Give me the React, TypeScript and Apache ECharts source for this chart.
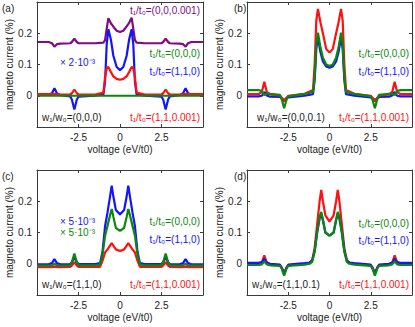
import React, { useEffect, useRef } from "react";
import * as echarts from "echarts";

// ---------- data ----------
const X_AB = [-5, -4.3, -4.1, -3.95, -3.8, -3.6, -3.0, -2.9, -2.75, -2.6, -2.5, -1.5, -1.0, -0.9, -0.8, -0.7, -0.55, -0.4, -0.2, 0,
  0.2, 0.4, 0.55, 0.7, 0.8, 0.9, 1.0, 1.5, 2.5, 2.6, 2.75, 2.9, 3.0, 3.6, 3.8, 3.95, 4.1, 4.3, 5];

const A_PURPLE = [0.172, 0.172, 0.168, 0.157, 0.165, 0.167, 0.168, 0.172, 0.183, 0.172, 0.168, 0.168, 0.170, 0.178, 0.215, 0.248, 0.232, 0.221, 0.208, 0.204,
  0.208, 0.222, 0.233, 0.250, 0.215, 0.178, 0.170, 0.168, 0.168, 0.172, 0.183, 0.172, 0.168, 0.167, 0.165, 0.157, 0.168, 0.172, 0.172];
const A_BLUE = [0.003, 0.003, 0.008, 0.024, 0.008, 0.002, -0.002, -0.012, -0.044, -0.012, -0.003, 0.000, 0.004, 0.045, 0.165, 0.213, 0.180, 0.128, 0.092, 0.082,
  0.092, 0.128, 0.180, 0.213, 0.165, 0.045, 0.004, 0.000, -0.003, -0.012, -0.044, -0.012, -0.002, 0.002, 0.008, 0.024, 0.008, 0.003, 0.003];
const A_RED = [0.005, 0.005, 0.005, 0.006, 0.005, 0.004, 0.004, 0.008, 0.020, 0.008, 0.004, 0.004, 0.010, 0.060, 0.088, 0.092, 0.076, 0.062, 0.054, 0.051,
  0.054, 0.062, 0.076, 0.092, 0.088, 0.060, 0.010, 0.004, 0.004, 0.008, 0.020, 0.008, 0.004, 0.004, 0.005, 0.006, 0.005, 0.005, 0.005];
const A_GREEN = [0, 0, 0, 0, 0, 0, 0, 0, 0, 0, 0, 0, 0, 0, 0, 0, 0, 0, 0, 0,
  0, 0, 0, 0, 0, 0, 0, 0, 0, 0, 0, 0, 0, 0, 0, 0, 0, 0, 0];

const B_GREEN = [0.018, 0.018, 0.015, 0.002, 0.007, 0.006, 0.003, -0.010, -0.040, -0.012, -0.002, 0.006, 0.012, 0.060, 0.165, 0.202, 0.155, 0.122, 0.100, 0.095,
  0.100, 0.122, 0.155, 0.202, 0.165, 0.060, 0.012, 0.006, -0.002, -0.012, -0.040, -0.010, 0.003, 0.006, 0.007, 0.002, 0.015, 0.018, 0.018];
const B_RED = [0.005, 0.005, 0.012, 0.045, 0.012, 0.004, 0.000, -0.006, -0.018, -0.006, 0.000, 0.006, 0.018, 0.100, 0.240, 0.278, 0.235, 0.200, 0.150, 0.138,
  0.150, 0.200, 0.235, 0.278, 0.240, 0.100, 0.018, 0.006, 0.000, -0.006, -0.018, -0.006, 0.000, 0.004, 0.012, 0.045, 0.012, 0.005, 0.005];
const B_BLUE = [-0.002, -0.002, 0.000, 0.012, 0.001, -0.003, -0.004, -0.008, -0.014, -0.008, -0.005, 0.000, 0.005, 0.050, 0.150, 0.187, 0.140, 0.110, 0.094, 0.090,
  0.094, 0.110, 0.140, 0.187, 0.150, 0.050, 0.005, 0.000, -0.005, -0.008, -0.014, -0.008, -0.004, -0.003, 0.001, 0.012, 0.000, -0.002, -0.002];

const X_CD = [-5, -4.3, -4.1, -3.95, -3.8, -3.6, -3.0, -2.9, -2.75, -2.6, -2.5, -1.5, -1.2, -1.05, -0.9, -0.75, -0.6, -0.5, -0.4, -0.25, 0,
  0.25, 0.4, 0.5, 0.6, 0.75, 0.9, 1.05, 1.2, 1.5, 2.5, 2.6, 2.75, 2.9, 3.0, 3.6, 3.8, 3.95, 4.1, 4.3, 5];

const C_BLUE = [-0.002, -0.002, 0.002, 0.015, 0.002, -0.002, -0.001, 0.005, 0.020, 0.005, -0.001, -0.001, 0.002, 0.040, 0.120, 0.165, 0.215, 0.250, 0.215, 0.172, 0.158,
  0.172, 0.215, 0.250, 0.215, 0.165, 0.120, 0.040, 0.002, -0.001, -0.001, 0.005, 0.020, 0.005, -0.001, -0.002, 0.002, 0.015, 0.002, -0.002, -0.002];
const C_GREEN = [-0.006, -0.006, -0.005, 0.000, -0.005, -0.006, -0.005, 0.005, 0.033, 0.005, -0.005, -0.005, -0.003, 0.030, 0.090, 0.122, 0.155, 0.175, 0.150, 0.115, 0.105,
  0.115, 0.150, 0.175, 0.155, 0.122, 0.090, 0.030, -0.003, -0.005, -0.005, 0.005, 0.033, 0.005, -0.005, -0.006, -0.005, 0.000, -0.005, -0.006, -0.006];
const C_RED = [-0.011, -0.011, -0.011, -0.009, -0.011, -0.011, -0.010, -0.006, 0.005, -0.006, -0.010, -0.010, -0.010, 0.010, 0.036, 0.046, 0.058, 0.066, 0.058, 0.046, 0.041,
  0.046, 0.058, 0.066, 0.058, 0.046, 0.036, 0.010, -0.010, -0.010, -0.010, -0.006, 0.005, -0.006, -0.010, -0.011, -0.011, -0.009, -0.011, -0.011, -0.011];

const D_RED = [0.000, 0.000, 0.004, 0.027, 0.004, -0.002, -0.005, -0.012, -0.028, -0.012, -0.005, 0.000, 0.003, 0.012, 0.050, 0.125, 0.200, 0.236, 0.200, 0.155, 0.135,
  0.155, 0.200, 0.236, 0.200, 0.125, 0.050, 0.012, 0.003, 0.000, -0.005, -0.012, -0.028, -0.012, -0.005, -0.002, 0.004, 0.027, 0.004, 0.000, 0.000];
const D_BLUE = [0.003, 0.003, 0.005, 0.016, 0.004, 0.000, -0.003, -0.012, -0.033, -0.012, -0.003, 0.002, 0.004, 0.010, 0.040, 0.100, 0.145, 0.160, 0.140, 0.100, 0.090,
  0.100, 0.140, 0.160, 0.145, 0.100, 0.040, 0.010, 0.004, 0.002, -0.003, -0.012, -0.033, -0.012, -0.003, 0.000, 0.004, 0.016, 0.005, 0.003, 0.003];
const D_GREEN = [-0.004, -0.004, -0.002, 0.007, -0.002, -0.005, -0.007, -0.015, -0.038, -0.015, -0.007, -0.003, 0.000, 0.006, 0.040, 0.100, 0.150, 0.166, 0.140, 0.100, 0.090,
  0.100, 0.140, 0.166, 0.150, 0.100, 0.040, 0.006, 0.000, -0.003, -0.007, -0.015, -0.038, -0.015, -0.007, -0.005, -0.002, 0.007, -0.002, -0.004, -0.004];

const X_TICK_LABELS = ["-2.5", "0", "2.5"];
const Y_TICK_LABELS = ["0", "0.1", "0.2"];
const PANEL_LABELS = ["(a)", "(b)", "(c)", "(d)"];

// ---------- styling ----------
const FONT = '"Liberation Sans", Arial, Helvetica, sans-serif';
const PURPLE = "#820a82";
const BLUE = "#1414ff";
const RED = "#ff1010";
const GREEN = "#0b870b";
const AXIS = "#3a3a3a";

const GRIDS = [
  { left: 37, top: 2, width: 166, height: 125 },
  { left: 247, top: 2, width: 165, height: 125 },
  { left: 37, top: 170, width: 166, height: 125 },
  { left: 247, top: 170, width: 165, height: 125 },
];

const pair = (xs: number[], ys: number[]) => xs.map((x, i) => [x, ys[i]]);

function fmtX(v: number) {
  const s = String(Math.round(v * 10) / 10);
  return X_TICK_LABELS.includes(s) ? s : "";
}
function fmtY(v: number) {
  const s = String(Math.round(v * 10) / 10);
  return Y_TICK_LABELS.includes(s) ? s : "";
}

export default function App() {
  const ref = useRef<HTMLDivElement>(null);
  useEffect(() => {
    if (!ref.current) return;
    const chart = echarts.init(ref.current, undefined, { renderer: "svg" });

    const xAxes: any[] = [];
    const yAxes: any[] = [];
    GRIDS.forEach((_, g) => {
      const line = { show: true, onZero: false, lineStyle: { color: AXIS, width: 1 } };
      const tick = { show: true, inside: true, length: 3, lineStyle: { color: AXIS, width: 1 } };
      xAxes.push({
        type: "value", gridIndex: g, min: -5, max: 5, interval: 2.5, position: "bottom",
        axisLine: line, axisTick: tick, splitLine: { show: false },
        axisLabel: { formatter: fmtX, margin: 5, color: "#222", fontSize: 10, fontFamily: FONT },
        name: "voltage (eV/t0)", nameLocation: "middle", nameGap: 17,
        nameTextStyle: { color: "#222", fontSize: 10, fontFamily: FONT },
      });
      xAxes.push({
        type: "value", gridIndex: g, min: -5, max: 5, interval: 2.5, position: "top",
        axisLine: line, axisTick: tick, splitLine: { show: false }, axisLabel: { show: false },
      });
      yAxes.push({
        type: "value", gridIndex: g, min: -0.1, max: 0.3, interval: 0.1, position: "left",
        axisLine: line, axisTick: tick, splitLine: { show: false },
        axisLabel: { formatter: fmtY, margin: 5, color: "#222", fontSize: 10, fontFamily: FONT },
        name: "magneto current (%)", nameLocation: "middle", nameGap: 16,
        nameTextStyle: { color: "#222", fontSize: 10, fontFamily: FONT },
      });
      yAxes.push({
        type: "value", gridIndex: g, min: -0.1, max: 0.3, interval: 0.1, position: "right",
        axisLine: line, axisTick: tick, splitLine: { show: false }, axisLabel: { show: false },
      });
    });

    const mk = (g: number, xs: number[], ys: number[], color: string) => ({
      type: "line", xAxisIndex: 2 * g, yAxisIndex: 2 * g, data: pair(xs, ys),
      showSymbol: false, symbol: "none", smooth: false,
      lineStyle: { color, width: 2.2 }, itemStyle: { color },
      clip: true,
    });

    const series = [
      mk(0, X_AB, A_PURPLE, PURPLE),
      mk(0, X_AB, A_BLUE, BLUE),
      mk(0, X_AB, A_RED, RED),
      mk(0, X_AB, A_GREEN, GREEN),
      mk(1, X_AB, B_BLUE, BLUE),
      mk(1, X_AB, B_RED, RED),
      mk(1, X_AB, B_GREEN, GREEN),
      mk(2, X_CD, C_RED, RED),
      mk(2, X_CD, C_BLUE, BLUE),
      mk(2, X_CD, C_GREEN, GREEN),
      mk(3, X_CD, D_RED, RED),
      mk(3, X_CD, D_BLUE, BLUE),
      mk(3, X_CD, D_GREEN, GREEN),
    ];

    const txt = (text: string, x: number, y: number, fill: string, align = "left") => ({
      type: "text", x, y, silent: true, z: 100,
      style: { text, fill, font: `10px ${FONT}`, align, verticalAlign: "middle" },
    });

    const graphic = [
      txt(PANEL_LABELS[0], 2, 8, "#222"),
      txt(PANEL_LABELS[1], 234, 8, "#222"),
      txt(PANEL_LABELS[2], 2, 176, "#222"),
      txt(PANEL_LABELS[3], 234, 176, "#222"),
      // (a)
      txt("t₁/t₀=(0,0,0.001)", 200, 10, PURPLE, "right"),
      txt("t₁/t₀=(0,0,0)", 200, 53, GREEN, "right"),
      txt("t₁/t₀=(1,1,0)", 200, 71, BLUE, "right"),
      txt("× 2·10⁻³", 60, 62, BLUE),
      txt("w₁/w₀=(0,0,0)", 42, 117, "#222"),
      txt("t₁/t₀=(1,1,0.001)", 200, 117, RED, "right"),
      // (b)
      txt("t₁/t₀=(0,0,0)", 409, 53, GREEN, "right"),
      txt("t₁/t₀=(1,1,0)", 409, 71, BLUE, "right"),
      txt("w₁/w₀=(0,0,0.1)", 257, 117, "#222"),
      txt("t₁/t₀=(1,1,0.001)", 409, 117, RED, "right"),
      // (c)
      txt("× 5·10⁻³", 60, 221, BLUE),
      txt("× 5·10⁻³", 60, 232, GREEN),
      txt("t₁/t₀=(0,0,0)", 200, 221, GREEN, "right"),
      txt("t₁/t₀=(1,1,0)", 200, 239, BLUE, "right"),
      txt("w₁/w₀=(1,1,0)", 42, 284, "#222"),
      txt("t₁/t₀=(1,1,0.001)", 200, 284, RED, "right"),
      // (d)
      txt("t₁/t₀=(0,0,0)", 409, 223, GREEN, "right"),
      txt("t₁/t₀=(1,1,0)", 409, 240, BLUE, "right"),
      txt("w₁/w₀=(1,1,0.1)", 252, 284, "#222"),
      txt("t₁/t₀=(1,1,0.001)", 409, 284, RED, "right"),
    ];

    chart.setOption({
      animation: false,
      backgroundColor: "#ffffff",
      grid: GRIDS.map((g) => ({ ...g, containLabel: false })),
      xAxis: xAxes,
      yAxis: yAxes,
      series,
      graphic,
    });
    return () => chart.dispose();
  }, []);

  return (
    <div
      ref={ref}
      style={{ position: "absolute", left: 0, top: 0, width: 415, height: 327, background: "#fff" }}
    />
  );
}
